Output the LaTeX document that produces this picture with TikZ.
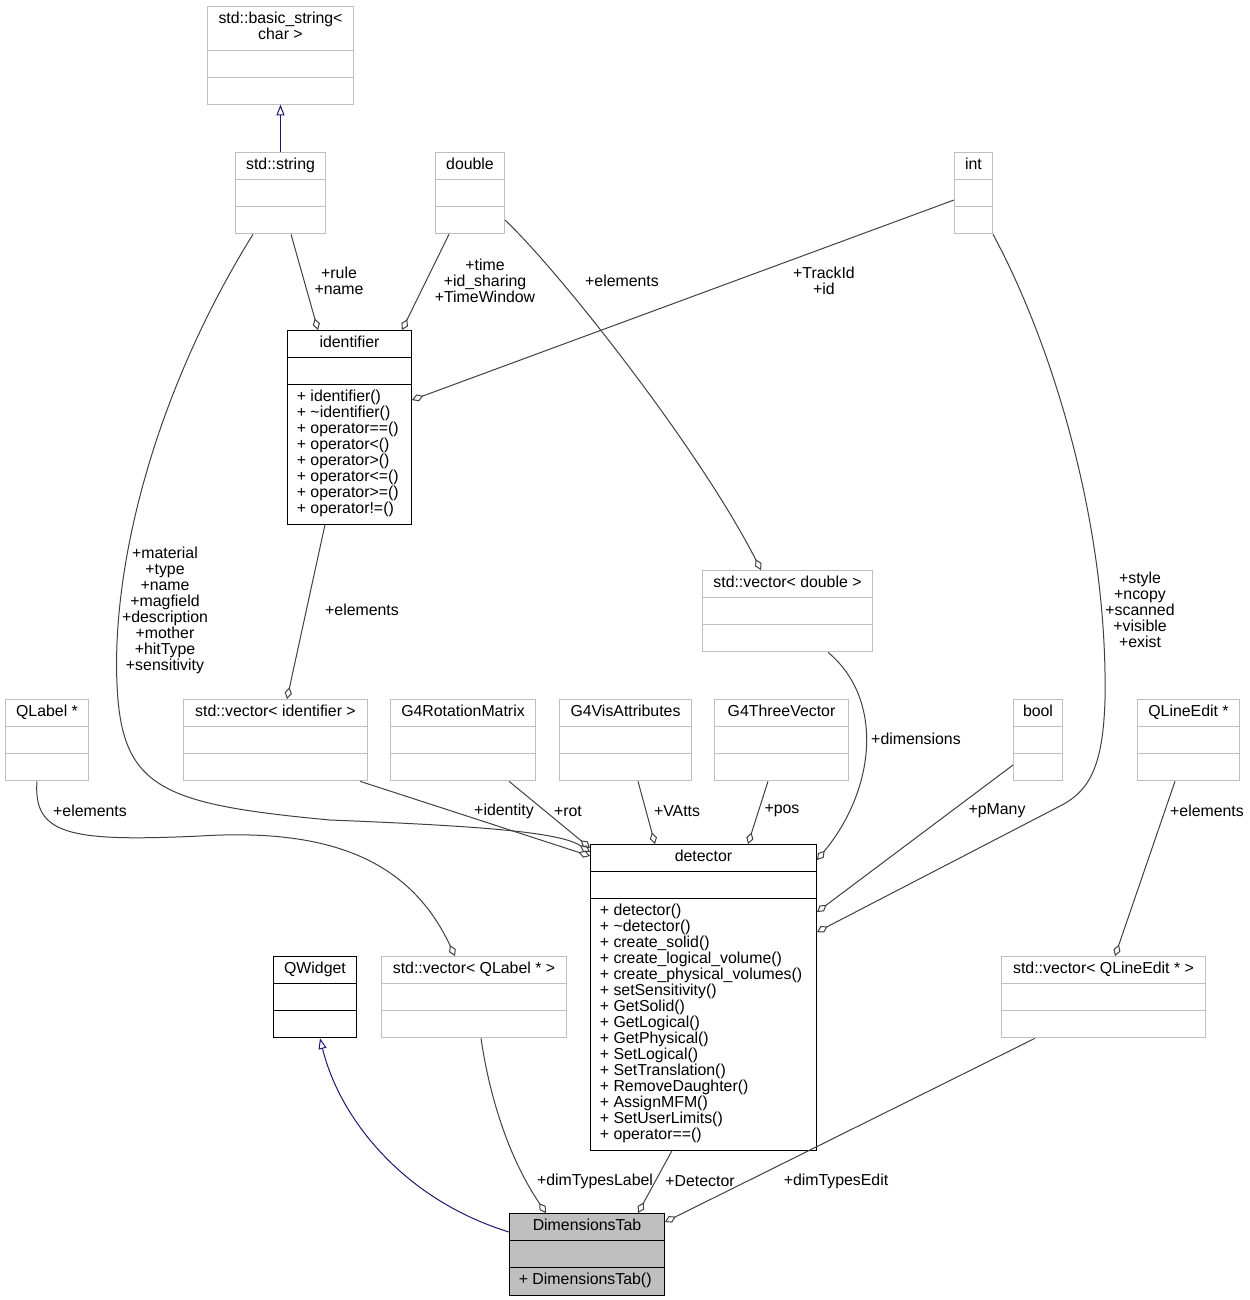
\documentclass[tikz,border=0pt]{standalone}
\usepackage{fontspec}
\setmainfont{Liberation Sans}
\usetikzlibrary{shapes.multipart,arrows.meta,calc}
\definecolor{boxgray}{HTML}{BFBFBF}
\definecolor{edgegray}{HTML}{404040}
\definecolor{inhblue}{HTML}{191970}
\tikzset{
  cls/.style={rectangle split, rectangle split parts=3, draw=boxgray, line width=0.75pt,
    inner xsep=7pt, inner ysep=3.75pt, anchor=north west,
    rectangle split part align={center,left,left}, font=\fontsize{11.9}{12}\selectfont},
  known/.style={cls, draw=black},
  cw/.style={minimum width=#1*0.75pt},
  agg/.style={draw=edgegray, line width=0.75pt, -{Diamond[open,length=9pt,width=5.5pt]}},
  inh/.style={draw=inhblue, line width=0.75pt, -{Triangle[open,length=8pt,width=6pt]}},
  lbl/.style={font=\fontsize{11.9}{12}\selectfont, align=center, inner sep=0pt},
}
\newcommand{\mlist}[1]{\vbox{\baselineskip=12pt\lineskiplimit=-100pt\let\\\cr
  \halign{\strut##\hfil\cr#1\crcr}}}
\begin{document}
\begin{tikzpicture}[x=0.75pt, y=-0.75pt]
  \useasboundingbox (0,0) rectangle (1250,1300);
  % classes
  \node[cls, cw=146] (bstr) at (207,6) {\begin{tabular}{@{}c@{}}std::basic\_string<\\char >\end{tabular}\nodepart{second}\strut\nodepart{third}\strut};
  \node[cls, cw=90] (str) at (235,152) {std::string\strut\nodepart{second}\strut\nodepart{third}\strut};
  \node[cls, cw=69] (dbl) at (435,152) {double\strut\nodepart{second}\strut\nodepart{third}\strut};
  \node[cls, cw=38] (int) at (954,152) {int\strut\nodepart{second}\strut\nodepart{third}\strut};
  \node[known, cw=124] (ident) at (287,330) {identifier\strut\nodepart{second}\strut\nodepart{third}
    \mlist{+ identifier()\\+ \textasciitilde identifier()\\+ operator==()\\+ operator<()\\
      + operator>()\\+ operator<=()\\+ operator>=()\\+ operator!=()}};
  \node[cls, cw=170] (vdbl) at (702,570) {std::vector< double >\strut\nodepart{second}\strut\nodepart{third}\strut};
  \node[cls, cw=83] (qlbl) at (5,699) {QLabel *\strut\nodepart{second}\strut\nodepart{third}\strut};
  \node[cls, cw=184] (vident) at (183,699) {std::vector< identifier >\strut\nodepart{second}\strut\nodepart{third}\strut};
  \node[cls, cw=145] (rot) at (390,699) {G4RotationMatrix\strut\nodepart{second}\strut\nodepart{third}\strut};
  \node[cls, cw=132] (vis) at (559,699) {G4VisAttributes\strut\nodepart{second}\strut\nodepart{third}\strut};
  \node[cls, cw=134] (three) at (714,699) {G4ThreeVector\strut\nodepart{second}\strut\nodepart{third}\strut};
  \node[cls, cw=49] (bool) at (1013,699) {bool\strut\nodepart{second}\strut\nodepart{third}\strut};
  \node[cls, cw=102] (qle) at (1137,699) {QLineEdit *\strut\nodepart{second}\strut\nodepart{third}\strut};
  \node[known, cw=226] (det) at (590,844) {detector\strut\nodepart{second}\strut\nodepart{third}
    \mlist{+ detector()\\+ \textasciitilde detector()\\+ create\_solid()\\+ create\_logical\_volume()\\
      + create\_physical\_volumes()\\+ setSensitivity()\\+ GetSolid()\\+ GetLogical()\\
      + GetPhysical()\\+ SetLogical()\\+ SetTranslation()\\+ RemoveDaughter()\\
      + AssignMFM()\\+ SetUserLimits()\\+ operator==()}};
  \node[known, cw=83] (qw) at (273,956) {QWidget\strut\nodepart{second}\strut\nodepart{third}\strut};
  \node[cls, cw=185] (vqlbl) at (381,956) {std::vector< QLabel * >\strut\nodepart{second}\strut\nodepart{third}\strut};
  \node[cls, cw=204] (vqle) at (1001,956) {std::vector< QLineEdit * >\strut\nodepart{second}\strut\nodepart{third}\strut};
  \node[known, cw=155, fill=boxgray] (dim) at (509,1213) {DimensionsTab\strut\nodepart{second}\strut\nodepart{third}+ DimensionsTab()\strut};

  % inheritance
  \draw[inh] (str.north) -- (bstr.south);
  \draw[inh] ($(dim.north west)+(0,19)$) .. controls (405,1200) and (340,1120) .. ($(qw.south west)+(47,0)$);

  % members
  \draw[agg] ($(str.south west)+(56,0)$) -- ($(ident.north west)+(31,0)$);
  \draw[agg] ($(dbl.south west)+(14,0)$) -- ($(ident.north west)+(115,0)$);
  \draw[agg] ($(int.north west)+(0,48)$) -- ($(ident.north east)+(0,70)$);
  \draw[agg] ($(dbl.north east)+(0,68)$) .. controls (560,272) and (700,450) .. ($(vdbl.north west)+(59,0)$);
  \draw[agg] ($(ident.south west)+(38,0)$) -- ($(vident.north west)+(104,0)$);
  \draw[agg] ($(str.south west)+(18,0)$) .. controls (150,400) and (108,580) .. (118,700)
    .. controls (126,790) and (170,805) .. (330,820) .. controls (480,826) and (560,832) .. ($(det.north west)+(0,8)$);
  \draw[agg] ($(vident.south west)+(177,0)$) -- ($(det.north west)+(0,12)$);
  \draw[agg] ($(rot.south west)+(119,0)$) -- ($(det.north west)+(0,4)$);
  \draw[agg] ($(vis.south west)+(79,0)$) -- ($(det.north west)+(65,0)$);
  \draw[agg] ($(three.south west)+(54,0)$) -- ($(det.north west)+(158,0)$);
  \draw[agg] ($(vdbl.south west)+(126,0)$) .. controls (885,700) and (875,790) .. ($(det.north east)+(0,16)$);
  \draw[agg] ($(bool.north west)+(0,66)$) -- ($(det.north east)+(0,68)$);
  \draw[agg] (int.south east) .. controls (1050,340) and (1108,520) .. (1105,700)
    .. controls (1103,765) and (1090,790) .. (1062,805) -- ($(det.north east)+(0,88)$);
  \draw[agg] ($(qlbl.south west)+(32,0)$) .. controls (33,835) and (70,842) .. (200,836)
    .. controls (330,828) and (410,860) .. ($(vqlbl.north west)+(74,0)$);
  \draw[agg] ($(qle.south west)+(38,0)$) -- ($(vqle.north west)+(114,0)$);
  \draw[agg] ($(vqlbl.south west)+(100,0)$) .. controls (490,1100) and (510,1160) .. ($(dim.north west)+(37,0)$);
  \draw[agg] ($(det.south west)+(82,0)$) -- ($(dim.north west)+(129,0)$);
  \draw[agg] ($(vqle.south west)+(34,0)$) -- ($(dim.north east)+(0,9)$);

  % labels
  \node[lbl] (lrule) at (339,281) {+rule\\+name};
  \node[lbl] (ltime) at (485,281) {+time\\+id\_sharing\\+TimeWindow};
  \node[lbl] (ltrack) at (824,281) {+TrackId\\+id};
  \node[lbl] (ldblel) at (622,281) {+elements};
  \node[lbl] (lidel) at (362,610) {+elements};
  \node[lbl] (lmat) at (165,610) {+material\\+type\\+name\\+magfield\\+description\\+mother\\+hitType\\+sensitivity};
  \node[lbl] (lstyle) at (1140,610) {+style\\+ncopy\\+scanned\\+visible\\+exist};
  \node[lbl] (ldim) at (916,739) {+dimensions};
  \node[lbl] (lqlel) at (90,811) {+elements};
  \node[lbl] (lident) at (504,811) {+identity};
  \node[lbl] (lrot) at (568,811) {+rot};
  \node[lbl] (lvatts) at (677,811) {+VAtts};
  \node[lbl] (lpos) at (782,811) {+pos};
  \node[lbl] (lpmany) at (997,811) {+pMany};
  \node[lbl] (lqleel) at (1207,811) {+elements};
  \node[lbl] (ldtl) at (595,1181) {+dimTypesLabel};
  \node[lbl] (ldet) at (700,1181) {+Detector};
  \node[lbl] (ldte) at (836,1181) {+dimTypesEdit};
\end{tikzpicture}
\end{document}
